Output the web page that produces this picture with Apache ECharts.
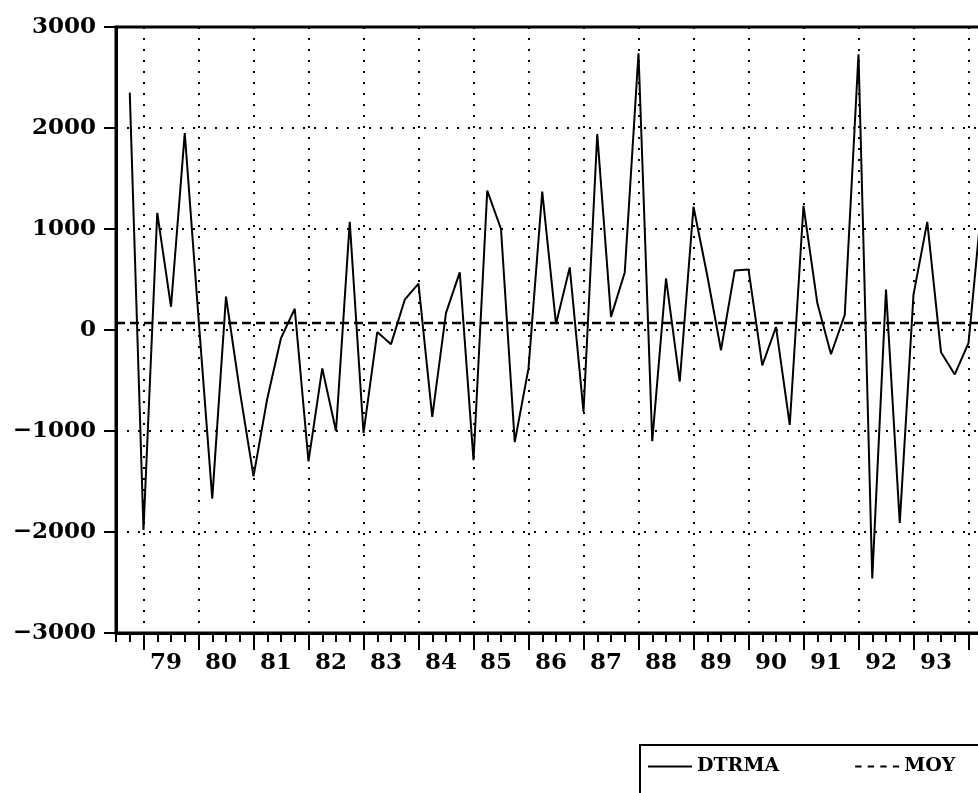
<!DOCTYPE html>
<html>
<head>
<meta charset="utf-8">
<script src="https://cdn.jsdelivr.net/npm/echarts@6/dist/echarts.min.js"></script>
<style>
  html, body { margin: 0; padding: 0; background: #fff; overflow: hidden; }
  /* le graphique d'origine est coupé à droite : conteneur plus large que la fenêtre */
  #chart { width: 1060px; height: 793px; }
</style>
</head>
<body>
<div id="chart"></div>
<script>
// Trimestres 1978T3 .. 1995T1 (le premier est vide)
const quarters = [];
for (let y = 1978; y <= 1995; y++) {
  for (let q = 1; q <= 4; q++) {
    if ((y === 1978 && q < 3) || (y === 1995 && q > 1)) continue;
    quarters.push(y + "Q" + q);
  }
}

// Années étiquetées sur l'axe
const yearLabels = ["79", "80", "81", "82", "83", "84", "85", "86", "87", "88", "89", "90", "91", "92", "93"];

// Série DTRMA (à partir de 1978T4)
const dtrma = [
  null, 2350, -1980, 1160, 230, 1950, 120, -1670, 330, -600,
  -1450, -680, -80, 210, -1300, -380, -1000, 1070, -1020, -20,
  -140, 300, 460, -860, 170, 570, -1290, 1380, 1000, -1110,
  -380, 1370, 60, 620, -810, 1940, 130, 570, 2740, -1100,
  510, -510, 1220, 540, -200, 590, 600, -350, 30, -940,
  1230, 270, -240, 150, 2730, -2460, 400, -1910, 350, 1070,
  -220, -440, -130, 1300, null, null, null
];

// Moyenne (constante)
const moyValue = 70;
const moy = quarters.map(() => moyValue);

const yTicks = [-3000, -2000, -1000, 0, 1000, 2000, 3000];

const fontFamily = "'DejaVu Serif', serif";
const dots = [2, 9];

const contenedor = document.getElementById("chart");
const myChart = echarts.init(contenedor);

const gridBox = { left: 116, top: 27, height: 606, width: 13.75 * (quarters.length - 1) };

var option = {
  backgroundColor: "#fff",
  animation: false,
  grid: [
    Object.assign({ show: true, borderColor: "#000", borderWidth: 3, containLabel: false }, gridBox),
    Object.assign({ show: false }, gridBox),
  ],
  legend: {
    left: 640,
    top: 745,
    orient: "horizontal",
    borderColor: "#000",
    borderWidth: 2,
    padding: [12, 80, 30, 8],
    itemWidth: 44,
    itemHeight: 12,
    itemGap: 76,
    selectedMode: false,
    textStyle: { fontFamily: fontFamily, fontSize: 19, fontWeight: "bold", color: "#000" },
    data: [
      { name: "DTRMA", icon: "path://M0,10L44,10L44,12L0,12Z" },
      {
        name: "MOY",
        icon: "path://M0,10L6,10L6,12L0,12ZM12,10L18,10L18,12L12,12ZM24,10L30,10L30,12L24,12ZM36,10L42,10L42,12L36,12Z",
      },
    ],
  },
  xAxis: [
    {
      type: "category",
      gridIndex: 0,
      data: quarters,
      boundaryGap: false,
      axisLine: { onZero: false, lineStyle: { color: "#000", width: 3 } },
      axisTick: { show: true, length: 9, lineStyle: { color: "#000", width: 2 }, interval: 0 },
      axisLabel: {
        // étiquette au milieu de l'année (3e trimestre)
        interval: (i, v) => v.slice(4) === "Q3" && yearLabels.includes(v.slice(2, 4)),
        formatter: (v) => v.slice(2, 4),
        fontFamily: fontFamily,
        fontSize: 23,
        fontWeight: "bold",
        color: "#000",
        margin: 19,
        padding: [0, 10, 0, 0],
      },
      splitLine: {
        show: true,
        interval: (i) => i % 4 === 2,
        lineStyle: { color: "#000", width: 2, type: dots },
      },
    },
    {
      // ticks longs pour les années
      type: "category",
      gridIndex: 1,
      data: quarters,
      boundaryGap: false,
      axisLine: { show: false, onZero: false },
      axisTick: { show: true, length: 17, lineStyle: { color: "#000", width: 2 }, interval: (i) => i % 4 === 2 },
      axisLabel: { show: false },
      splitLine: { show: false },
    },
  ],
  yAxis: [
    {
      type: "value",
      gridIndex: 0,
      min: yTicks[0],
      max: yTicks[yTicks.length - 1],
      interval: 1000,
      axisLine: { show: true, onZero: false, lineStyle: { color: "#000", width: 3 } },
      axisTick: { show: true, length: 12, lineStyle: { color: "#000", width: 2 } },
      axisLabel: {
        fontFamily: fontFamily,
        fontSize: 23,
        fontWeight: "bold",
        color: "#000",
        margin: 20,
        formatter: (v) => (v < 0 ? "\u2212" + Math.abs(v) : String(v)),
      },
      splitLine: { show: true, lineStyle: { color: "#000", width: 2, type: dots } },
    },
    {
      type: "value",
      gridIndex: 1,
      min: yTicks[0],
      max: yTicks[yTicks.length - 1],
      show: false,
    },
  ],
  series: [
    {
      name: "DTRMA",
      type: "line",
      xAxisIndex: 0,
      yAxisIndex: 0,
      data: dtrma,
      symbol: "none",
      color: "#000",
      lineStyle: { color: "#000", width: 2 },
      connectNulls: false,
    },
    {
      name: "MOY",
      type: "line",
      xAxisIndex: 0,
      yAxisIndex: 0,
      data: moy,
      symbol: "none",
      color: "#000",
      lineStyle: { color: "#000", width: 2.5, type: [9, 5] },
    },
  ],
};

myChart.setOption(option);
</script>
</body>
</html>
